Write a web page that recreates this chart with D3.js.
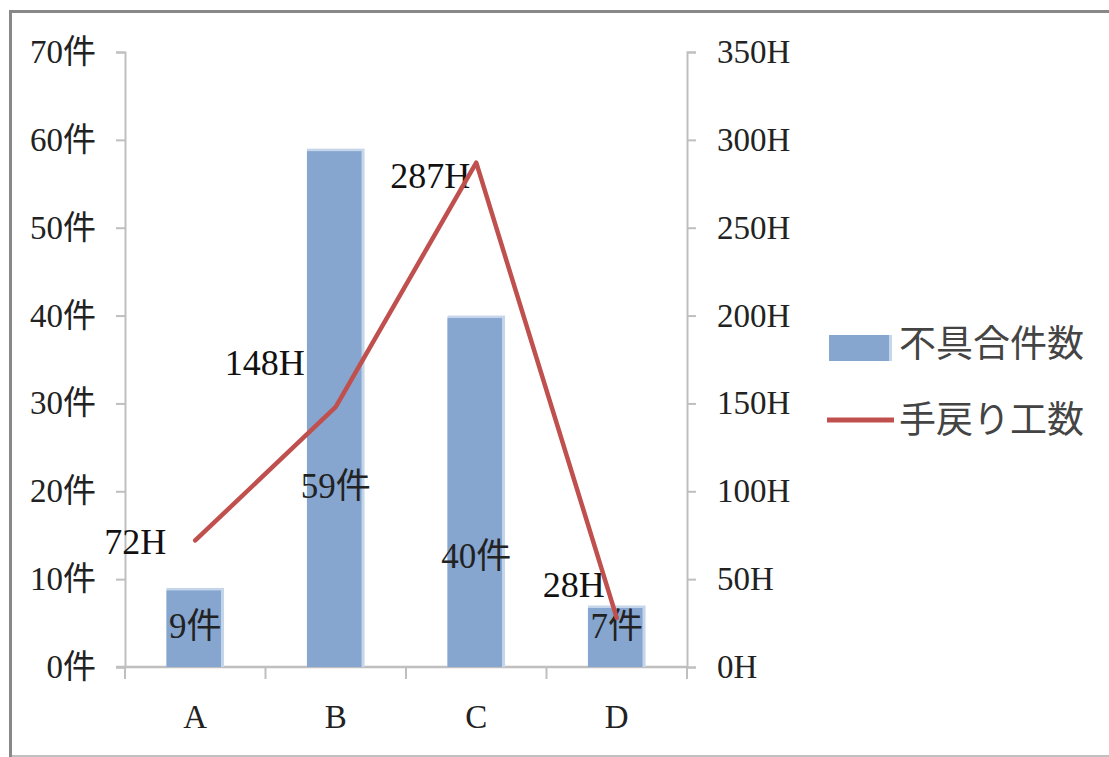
<!DOCTYPE html>
<html><head><meta charset="utf-8">
<script src="https://cdn.jsdelivr.net/npm/d3@7"></script>
<style>
html,body{margin:0;padding:0;background:#fff;}
svg{display:block;}
</style></head>
<body>
<svg id="chart" width="1109" height="757"></svg>
<script>
// ---- data ----
const categories = ["A", "B", "C", "D"];
const defectCounts = [9, 59, 40, 7];          // 不具合件数 (件)
const reworkHours = [72, 148, 287, 28];       // 手戻り工数 (H)
const leftTicks = [0, 10, 20, 30, 40, 50, 60, 70];
const rightTicks = [0, 50, 100, 150, 200, 250, 300, 350];
const seriesNames = ["不具合件数", "手戻り工数"];

// ---- layout (label nudges, not data) ----
const barLabelNudge = [-2, 78, 64, -11];
const lineLabelNudge = [[-29, 1], [-31, -45], [-6, 13], [-12, -33]];

const svg = d3.select("#chart");
const W = 1109, H = 757;
const plot = {left: 125, right: 687, top: 52, bottom: 667};
const serif = "'Liberation Serif','Times New Roman','Noto Sans CJK JP',serif";
const gothic = "'Noto Sans CJK JP','Noto Sans',sans-serif";

// frame
svg.append("rect").attr("x", 0).attr("y", 0).attr("width", W).attr("height", H).attr("fill", "#fff");
svg.append("line").attr("x1", 10.5).attr("x2", 10.5).attr("y1", 10).attr("y2", 757).attr("stroke", "#888").attr("stroke-width", 3);
svg.append("line").attr("x1", 9).attr("x2", 1109).attr("y1", 11.5).attr("y2", 11.5).attr("stroke", "#888").attr("stroke-width", 3);
svg.append("line").attr("x1", 12).attr("x2", 1109).attr("y1", 756).attr("y2", 756).attr("stroke", "#c0c0c0").attr("stroke-width", 2);

const x = d3.scaleBand().domain(categories).range([plot.left, plot.right]).paddingInner(0.59).paddingOuter(0.295);
const yL = d3.scaleLinear().domain([0, 70]).range([plot.bottom, plot.top]);
const yR = d3.scaleLinear().domain([0, 350]).range([plot.bottom, plot.top]);
const axisColor = "#bfbfbf";

// left axis
const gL = svg.append("g").attr("transform", `translate(${plot.left},0)`)
  .call(d3.axisLeft(yL).tickValues(leftTicks).tickSize(9).tickPadding(20).tickFormat(d => d + "件"));
// right axis
const gR = svg.append("g").attr("transform", `translate(${plot.right},0)`)
  .call(d3.axisRight(yR).tickValues(rightTicks).tickSize(9).tickPadding(21).tickFormat(d => d + "H"));
[gL, gR].forEach(g => {
  g.select(".domain").attr("stroke", axisColor).attr("stroke-width", 2);
  g.selectAll(".tick line").attr("stroke", axisColor).attr("stroke-width", 2);
  g.selectAll(".tick text").attr("fill", "#222").style("font-family", serif).style("font-size", "33px");
});

// bottom axis
const gB = svg.append("g").attr("transform", `translate(0,${plot.bottom})`);
gB.append("line").attr("x1", plot.left - 9).attr("x2", plot.right).attr("y1", 0).attr("y2", 0)
  .attr("stroke", axisColor).attr("stroke-width", 2.5);
const boundaries = categories.map(c => x(c) - x.step() * x.paddingInner() / 2).concat([plot.right]);
boundaries[0] = plot.left;
gB.selectAll("line.bt").data(boundaries).enter().append("line").attr("class", "bt")
  .attr("x1", d => d).attr("x2", d => d).attr("y1", 0).attr("y2", 12)
  .attr("stroke", axisColor).attr("stroke-width", 2);
gB.selectAll("text").data(categories).enter().append("text")
  .attr("x", d => x(d) + x.bandwidth() / 2).attr("y", 61)
  .attr("text-anchor", "middle").attr("fill", "#222")
  .style("font-family", serif).style("font-size", "33px").text(d => d);

// bars
const bars = svg.append("g");
categories.forEach((c, i) => {
  bars.append("rect").attr("x", x(c)).attr("y", yL(defectCounts[i]))
    .attr("width", x.bandwidth()).attr("height", plot.bottom - yL(defectCounts[i]))
    .attr("fill", "#c5d5ea");
  bars.append("rect").attr("x", x(c)).attr("y", yL(defectCounts[i]) + 2.5)
    .attr("width", x.bandwidth() - 3).attr("height", plot.bottom - yL(defectCounts[i]) - 2.5)
    .attr("fill", "#86a6d0");
});

// bar labels
svg.append("g").selectAll("text").data(categories).enter().append("text")
  .attr("x", d => x(d) + x.bandwidth() / 2)
  .attr("y", (d, i) => (yL(defectCounts[i]) + plot.bottom) / 2 + barLabelNudge[i])
  .attr("dy", "0.35em").attr("text-anchor", "middle").attr("fill", "#222")
  .style("font-family", serif).style("font-size", "35px")
  .text((d, i) => defectCounts[i] + "件");

// line labels
svg.append("g").selectAll("text").data(categories).enter().append("text")
  .attr("x", (d, i) => x(d) + x.bandwidth() / 2 + lineLabelNudge[i][0])
  .attr("y", (d, i) => yR(reworkHours[i]) + lineLabelNudge[i][1])
  .attr("dy", "0.35em").attr("text-anchor", "end").attr("fill", "#111")
  .style("font-family", serif).style("font-size", "36px")
  .text((d, i) => reworkHours[i] + "H");

// line
const line = d3.line().x((d, i) => x(categories[i]) + x.bandwidth() / 2).y(d => yR(d));
svg.append("path").datum(reworkHours).attr("d", line)
  .attr("fill", "none").attr("stroke", "#c0504d").attr("stroke-width", 4.5)
  .attr("stroke-linejoin", "round").attr("stroke-linecap", "round");

// legend
const lg = svg.append("g");
lg.append("rect").attr("x", 829).attr("y", 335).attr("width", 63).attr("height", 26).attr("fill", "#c5d5ea");
lg.append("rect").attr("x", 829).attr("y", 335).attr("width", 60).attr("height", 26).attr("fill", "#86a6d0");
lg.append("line").attr("x1", 827).attr("x2", 894).attr("y1", 420).attr("y2", 420)
  .attr("stroke", "#c0504d").attr("stroke-width", 5);
lg.selectAll("text").data(seriesNames).enter().append("text")
  .attr("x", 899).attr("y", (d, i) => 344 + i * 76).attr("dy", "0.36em")
  .attr("fill", "#444").style("font-family", gothic).style("font-size", "37px")
  .text(d => d);
</script>
</body></html>
